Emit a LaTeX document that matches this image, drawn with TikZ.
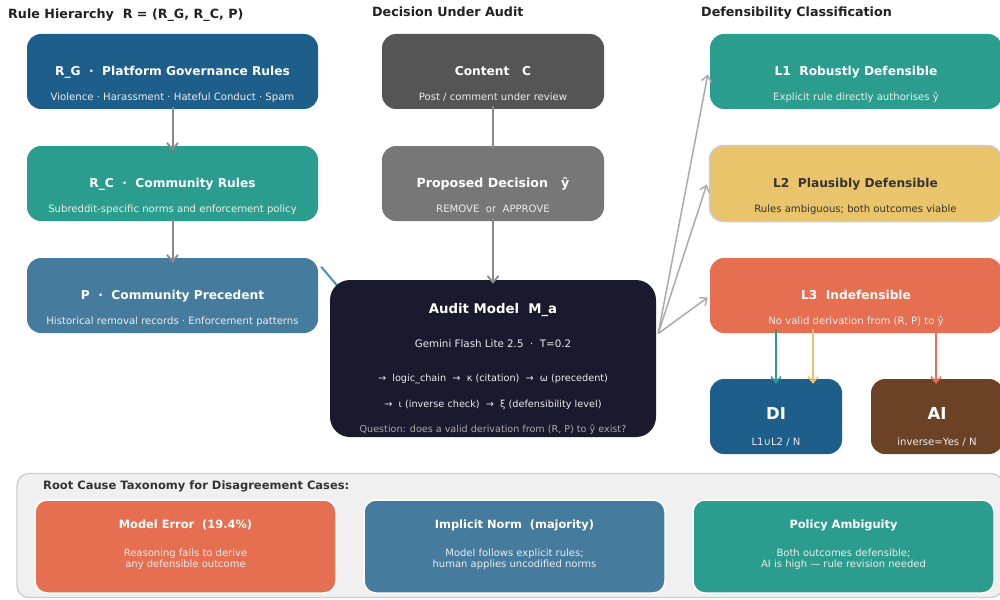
\documentclass[tikz,border=0pt]{standalone}
\usepackage{fontspec}
\setmainfont{DejaVu Sans}
\usetikzlibrary{arrows.meta,backgrounds,calc}
\definecolor{cRG}{HTML}{1D5E8A}
\definecolor{cTeal}{HTML}{2A9D8F}
\definecolor{cP}{HTML}{457B9D}
\definecolor{cContent}{HTML}{555555}
\definecolor{cProp}{HTML}{777777}
\definecolor{cAudit}{HTML}{1A1A2E}
\definecolor{cYellow}{HTML}{E9C46A}
\definecolor{cOrange}{HTML}{E76F51}
\definecolor{cBrown}{HTML}{6B4226}
\definecolor{cPanel}{HTML}{F0F0F0}
\definecolor{cEdge}{HTML}{CCCCCC}
\definecolor{cDark}{HTML}{222222}
\definecolor{cText}{HTML}{333333}
\definecolor{cArrow}{HTML}{888888}
\definecolor{cFan}{HTML}{AAAAAA}
\definecolor{cLink}{HTML}{4A90C4}
\begin{document}
\begin{tikzpicture}[x=1pt,y=-1pt,
  box/.style={rounded corners=14pt, inner sep=0pt, minimum width=#1},
  hbox/.style={box=291pt, minimum height=75pt},
  head/.style={anchor=base, text=white, font=\fontsize{12.2}{14}\selectfont\bfseries},
  sub/.style={anchor=base, text=white!93!black, font=\fontsize{10.1}{12}\selectfont},
  sect/.style={anchor=base west, inner sep=0pt, text=cDark, font=\fontsize{12.7}{15}\selectfont\bfseries},
  garrow/.style={draw=cArrow, line width=2pt, -{Straight Barb[length=6.5pt,width=11pt,line width=1.8pt]}},
  fan/.style={draw=cFan, line width=1.5pt, -{Straight Barb[length=6pt,width=10pt,line width=1.4pt]}},
  carrow/.style={draw=#1, line width=1.6pt, -{Straight Barb[length=6pt,width=10pt,line width=1.5pt]}},
  bhead/.style={anchor=base, text=white, font=\fontsize{11.4}{13}\selectfont\bfseries},
  bsub/.style={anchor=base, text=white!93!black, font=\fontsize{10}{11}\selectfont},
]
\useasboundingbox (0,0) rectangle (1000,599);

% section titles
\node[sect] (t1) at (8,18.5) {Rule Hierarchy\ \ R = (R\_G, R\_C, P)};
\node[sect] (t2) at (372,16.5) {Decision Under Audit};
\node[sect] (t3) at (701,16.5) {Defensibility Classification};

% left column
\node[hbox, fill=cRG] (rg) at (172.5,71.5) {};
\node[head] (rgh) at ($(rg.center)+(0,4)$) {R\_G\ \ ·\ \ Platform Governance Rules};
\node[sub] (rgs) at ($(rg.center)+(0,29)$) {Violence · Harassment · Hateful Conduct · Spam};

\node[hbox, fill=cTeal] (rc) at (172.5,183.5) {};
\node[head] (rch) at ($(rc.center)+(0,4)$) {R\_C\ \ ·\ \ Community Rules};
\node[sub] (rcs) at ($(rc.center)+(0,29)$) {Subreddit-specific norms and enforcement policy};

\node[hbox, fill=cP] (p) at (172.5,295.5) {};
\node[head] (ph) at ($(p.center)+(0,4)$) {P\ \ ·\ \ Community Precedent};
\node[sub] (ps) at ($(p.center)+(0,29)$) {Historical removal records · Enforcement patterns};

\draw[garrow] ([yshift=2.5pt]rg.south) -- ([yshift=-5pt]rc.north);
\draw[garrow] ([yshift=2.5pt]rc.south) -- ([yshift=-5pt]p.north);

% middle column
\node[box=222pt, minimum height=75pt, fill=cContent] (content) at (493,71.5) {};
\node[head] (ch) at ($(content.center)+(0,4)$) {Content\ \ \ C};
\node[sub] (cs) at ($(content.center)+(0,29)$) {Post / comment under review};

\node[box=222pt, minimum height=75pt, fill=cProp] (prop) at (493,183.5) {};
\node[head, font=\fontsize{12.6}{14}\selectfont\bfseries] (prh) at ($(prop.center)+(0,4)$) {Proposed Decision\ \ \ ŷ};
\node[sub] (prs) at ($(prop.center)+(0,29)$) {REMOVE\ \ or\ \ APPROVE};

\draw[draw=cArrow, line width=2pt] ([yshift=3pt]content.south) -- ([yshift=-2pt]prop.north);

% link from P to audit (partly hidden behind the audit box)
\draw[draw=cLink, line width=2pt] ([shift={(3,9)}]p.north east) -- (340,289);

\node[box=326pt, minimum height=157pt, rounded corners=20pt, fill=cAudit] (audit) at (493,358.5) {};
\node[head, font=\fontsize{13.3}{15}\selectfont\bfseries] (ah) at (493,313) {Audit Model\ \ M\_a};
\node[sub, font=\fontsize{10.3}{12}\selectfont] (a1) at (493,347) {Gemini Flash Lite 2.5\ \ ·\ \ T=0.2};
\node[sub, font=\fontsize{9.7}{11}\selectfont] (a2) at (493,381) {→\ \ logic\_chain\ \ →\ \ κ (citation)\ \ →\ \ ω (precedent)};
\node[sub, font=\fontsize{9.7}{11}\selectfont] (a3) at (493,407) {→\ \ ι (inverse check)\ \ →\ \ ξ (defensibility level)};
\node[sub, text=cFan, font=\fontsize{9.6}{11}\selectfont] (a4) at (493,432.5) {Question: does a valid derivation from (R, P) to ŷ exist?};

\draw[garrow] ([yshift=3pt]prop.south) -- ([yshift=-4pt]audit.north);

% right column
\node[box=292pt, minimum height=75pt, fill=cTeal] (l1) at (856,71.5) {};
\node[head] (l1h) at ($(l1.center)+(0,4)$) {L1\ \ Robustly Defensible};
\node[sub] (l1s) at ($(l1.center)+(0,29)$) {Explicit rule directly authorises ŷ};

\node[box=292pt, minimum height=76pt, fill=cYellow, draw=cEdge, line width=1.5pt] (l2) at (855.5,183.5) {};
\node[head, text=cText] (l2h) at ($(l2.center)+(0,4)$) {L2\ \ Plausibly Defensible};
\node[sub, text=cText] (l2s) at ($(l2.center)+(0,29)$) {Rules ambiguous; both outcomes viable};

\node[box=292pt, minimum height=75pt, fill=cOrange] (l3) at (856,295.5) {};
\node[head] (l3h) at ($(l3.center)+(0,4)$) {L3\ \ Indefensible};
\node[sub] (l3s) at ($(l3.center)+(0,29)$) {No valid derivation from (R, P) to ŷ};

\coordinate (fanstart) at ($(audit.east)+(2,-25)$);
\draw[fan] (fanstart) -- ([shift={(-2,3)}]l1.west);
\draw[fan] (fanstart) -- ([shift={(-2,1)}]l2.west);
\draw[fan] (fanstart) -- ([shift={(-2,2)}]l3.west);

\node[box=132pt, minimum height=75pt, fill=cRG] (di) at (776,416.5) {};
\node[head, font=\fontsize{16.5}{18}\selectfont\bfseries] (dih) at ($(di.center)+(0,2.8)$) {DI};
\node[sub] (dis) at ($(di.center)+(0,29)$) {L1∪L2 / N};

\node[box=132pt, minimum height=75pt, fill=cBrown] (ai) at (937,416.5) {};
\node[head, font=\fontsize{16.5}{18}\selectfont\bfseries] (aih) at ($(ai.center)+(0,2.8)$) {AI};
\node[sub] (ais) at ($(ai.center)+(0,29)$) {inverse=Yes / N};

\draw[carrow=cTeal] ([yshift=4pt]di.north |- l3.south) -- ([yshift=-5pt]di.north);
\draw[carrow=cYellow] ([xshift=37pt,yshift=4pt]di.north |- l3.south) -- ([xshift=37pt,yshift=-5pt]di.north);
\draw[carrow=cOrange] ([xshift=-1pt,yshift=4pt]ai.north |- l3.south) -- ([xshift=-1pt,yshift=-5pt]ai.north);

% bottom panel
\node[box=986pt, minimum height=124pt, rounded corners=12pt, fill=cPanel, draw=cEdge, line width=1.3pt] (panel) at (510,535.5) {};
\node[sect, text=cText, font=\fontsize{11.5}{13}\selectfont\bfseries] (pt) at (43,489) {Root Cause Taxonomy for Disagreement Cases:};

\node[box=301pt, minimum height=93pt, rounded corners=12pt, fill=cOrange, draw=white, line width=1.5pt] (me) at (185.5,546.5) {};
\node[bhead] (meh) at (185.5,528) {Model Error\ \ (19.4\%)};
\node[bsub] (me1) at (185.5,556.5) {Reasoning fails to derive};
\node[bsub] (me2) at (185.5,567.5) {any defensible outcome};

\node[box=301pt, minimum height=93pt, rounded corners=12pt, fill=cP, draw=white, line width=1.5pt] (in) at (514.5,546.5) {};
\node[bhead] (inh) at (514.5,528) {Implicit Norm\ \ (majority)};
\node[bsub] (in1) at (514.5,556.5) {Model follows explicit rules;};
\node[bsub] (in2) at (514.5,567.5) {human applies uncodified norms};

\node[box=301pt, minimum height=93pt, rounded corners=12pt, fill=cTeal, draw=white, line width=1.5pt] (pa) at (843.5,546.5) {};
\node[bhead] (pah) at (843.5,528) {Policy Ambiguity};
\node[bsub] (pa1) at (843.5,556.5) {Both outcomes defensible;};
\node[bsub] (pa2) at (843.5,567.5) {AI is high — rule revision needed};
\end{tikzpicture}
\end{document}
